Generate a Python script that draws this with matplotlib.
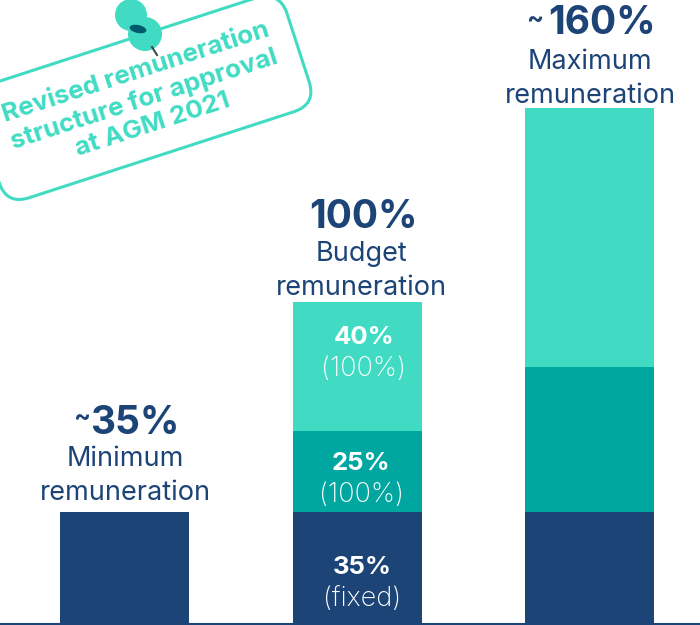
import matplotlib
matplotlib.use("Agg")
import matplotlib.pyplot as plt
from matplotlib.patches import FancyBboxPatch, Circle, Ellipse
from matplotlib.transforms import Affine2D

plt.rcParams['font.family'] = ['Inter', 'DejaVu Sans']

categories = ['Minimum', 'Budget', 'Maximum']
fixed = [35, 35, 35]
short_term = [0, 25, 45]
long_term = [0, 40, 80]
headlines = ['35%', '100%', '160%']
prefixes = ['~', '', '~']
captions = ['Minimum\nremuneration', 'Budget\nremuneration', 'Maximum\nremuneration']
seg_bold = ['35%', '25%', '40%']
seg_light = ['(fixed)', '(100%)', '(100%)']
note = 'Revised remuneration\nstructure for approval\nat AGM 2021'

NAVY = '#1d4477'
TEAL = '#00a6a0'
MINT = '#41dbc4'

fig = plt.figure(figsize=(7, 6.25), dpi=100)
ax = fig.add_axes([0, 0, 1, 1])
ax.set_xlim(-0.5355, 2.475)
ax.set_ylim(0, 193.5)
ax.axis('off')

x = range(len(categories))
w = 0.555
ax.bar(x, fixed, w, color=NAVY)
ax.bar(x, short_term, w, bottom=fixed, color=TEAL)
bot = [a + b for a, b in zip(fixed, short_term)]
ax.bar(x, long_term, w, bottom=bot, color=MINT)
ax.axhline(0.3, color=NAVY, lw=1.5)

# overlay in pixel coordinates for annotations
ov = fig.add_axes([0, 0, 1, 1], facecolor='none')
ov.set_xlim(0, 700)
ov.set_ylim(625, 0)
ov.axis('off')

right_x = [179, 418, 656]
tilde_x = [82, 0, 535]
capx = [125, 361, 590]
head_y = [423, 217, 24]
cap_y = [476, 271, 79]
for i in range(3):
    ov.text(right_x[i], head_y[i], headlines[i], color=NAVY, fontsize=28, fontweight='bold',
            ha='right', va='center')
    if prefixes[i]:
        ov.text(tilde_x[i], head_y[i] - 4, prefixes[i], color=NAVY, fontsize=18, fontweight='bold',
                ha='center', va='center')
    ov.text(capx[i], cap_y[i], captions[i], color=NAVY, fontsize=19.5, ha='center',
            va='center', linespacing=1.36, fontweight='normal')

seg_y = [567, 463, 337]
light_y = [599, 495, 369]
seg_x = [362, 361, 364]
for i in range(3):
    ov.text(seg_x[i], seg_y[i], seg_bold[i], color='white', fontsize=18.5, fontweight='bold',
            ha='center', va='center')
    ov.text(seg_x[i], light_y[i], seg_light[i], color='white', fontsize=19.5, fontweight='light',
            ha='center', va='center')

# sticky note
rot = Affine2D().rotate_deg_around(142, 98, -18) + ov.transData
box = FancyBboxPatch((-20, 38), 326, 120, boxstyle='round,pad=0,rounding_size=24',
                     fc='none', ec=MINT, lw=2.2, transform=rot)
ov.add_patch(box)
ov.text(144, 99, note, color=MINT, fontsize=18.7, fontweight='bold', rotation=18,
        rotation_mode='anchor', ha='center', va='center', linespacing=1.2)

# pin
ov.add_patch(Circle((131, 15), 16, fc=MINT, ec='none'))
ov.add_patch(Circle((145, 34), 17, fc=MINT, ec='none'))
ov.add_patch(Ellipse((138, 29), 17, 8, angle=12, fc='#005a6b', ec='none'))
ov.plot([152, 157], [47, 55], color='#3a4a50', lw=1.5)

fig.savefig('out.png', dpi=100)
